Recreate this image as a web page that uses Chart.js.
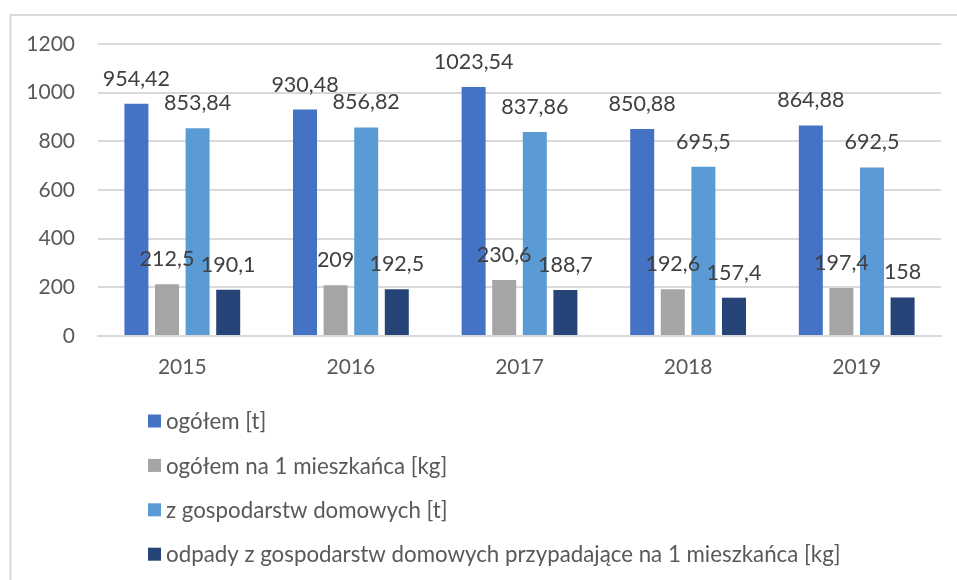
<!DOCTYPE html>
<html>
<head>
<meta charset="utf-8">
<style>
  body { margin: 0; background: #ffffff; }
  #myChart { display: block; }
</style>
</head>
<body>
<canvas id="myChart" width="957" height="580"></canvas>

<script src="https://cdn.jsdelivr.net/npm/chart.js"></script>
<script>
  // dane do wykresu
  const years = ['2015', '2016', '2017', '2018', '2019'];
  const seriesNames = [
    'ogółem [t]',
    'ogółem na 1 mieszkańca [kg]',
    'z gospodarstw domowych [t]',
    'odpady z gospodarstw domowych przypadające na 1 mieszkańca [kg]'
  ];
  const ogolem = [954.42, 930.48, 1023.54, 850.88, 864.88];
  const ogolemNaMieszkanca = [212.5, 209, 230.6, 192.6, 197.4];
  const zGospodarstw = [853.84, 856.82, 837.86, 695.5, 692.5];
  const zGospodarstwNaMieszkanca = [190.1, 192.5, 188.7, 157.4, 158];
  const yTicks = [0, 200, 400, 600, 800, 1000, 1200];

  const colors = ['#4472C4', '#A5A5A5', '#5B9BD5', '#264478'];
  const FONT = 'Lato, "Open Sans", sans-serif';

  // ramka wykresu
  const framePlugin = {
    id: 'frame',
    beforeDraw(chart) {
      const c = chart.ctx;
      c.save();
      c.strokeStyle = '#d9d9d9';
      c.lineWidth = 2;
      c.beginPath();
      c.moveTo(10.5, 580);
      c.lineTo(10.5, 15);
      c.lineTo(957, 15);
      c.stroke();
      c.restore();
    }
  };

  // etykiety wartości nad słupkami
  const labelPlugin = {
    id: 'valueLabels',
    afterDatasetsDraw(chart) {
      const c = chart.ctx;
      c.save();
      c.font = '21.5px ' + FONT;
      c.fillStyle = '#404040';
      c.textAlign = 'center';
      c.textBaseline = 'middle';
      chart.data.datasets.forEach((ds, i) => {
        chart.getDatasetMeta(i).data.forEach((bar, j) => {
          const txt = String(ds.data[j]).replace('.', ',');
          c.fillText(txt, bar.x, bar.y - 25);
        });
      });
      c.restore();
    }
  };

  // legenda w pionie, pod wykresem
  const legendPlugin = {
    id: 'vertLegend',
    afterDraw(chart) {
      const c = chart.ctx;
      c.save();
      c.font = '22.3px ' + FONT;
      c.textBaseline = 'middle';
      c.textAlign = 'left';
      chart.data.datasets.forEach((ds, i) => {
        const y = 421 + i * 44.4;
        c.fillStyle = ds.backgroundColor;
        c.fillRect(148, y - 6.5, 13, 13);
        c.fillStyle = '#595959';
        c.fillText(ds.label, 166, y + 1);
      });
      c.restore();
    }
  };

  const ctx = document.getElementById('myChart');
  new Chart(ctx, {
    type: 'bar',
    data: {
      labels: years,
      datasets: [
        { label: seriesNames[0], data: ogolem, backgroundColor: colors[0] },
        { label: seriesNames[1], data: ogolemNaMieszkanca, backgroundColor: colors[1] },
        { label: seriesNames[2], data: zGospodarstw, backgroundColor: colors[2] },
        { label: seriesNames[3], data: zGospodarstwNaMieszkanca, backgroundColor: colors[3] }
      ]
    },
    options: {
      responsive: false,
      animation: false,
      categoryPercentage: 0.726,
      barPercentage: 0.784,
      layout: { padding: { left: 0, top: 44, right: 16, bottom: 184 } },
      plugins: {
        legend: { display: false },
        tooltip: { enabled: false }
      },
      scales: {
        x: {
          grid: { display: false, drawTicks: false },
          border: { display: true, color: '#d9d9d9', width: 2 },
          ticks: { color: '#595959', font: { family: FONT, size: 21 }, padding: 19 },
          afterFit(scale) { scale.height = 60; }
        },
        y: {
          min: 0,
          max: 1200,
          afterBuildTicks(scale) { scale.ticks = yTicks.map(v => ({ value: v })); },
          grid: { color: '#d9d9d9', lineWidth: 2, drawTicks: false },
          border: { display: false },
          ticks: {
            color: '#595959',
            font: { family: FONT, size: 21 },
            padding: 23,
            callback: v => String(v)
          },
          afterFit(scale) { scale.width = 98; }
        }
      }
    },
    plugins: [framePlugin, labelPlugin, legendPlugin]
  });
</script>
</body>
</html>
